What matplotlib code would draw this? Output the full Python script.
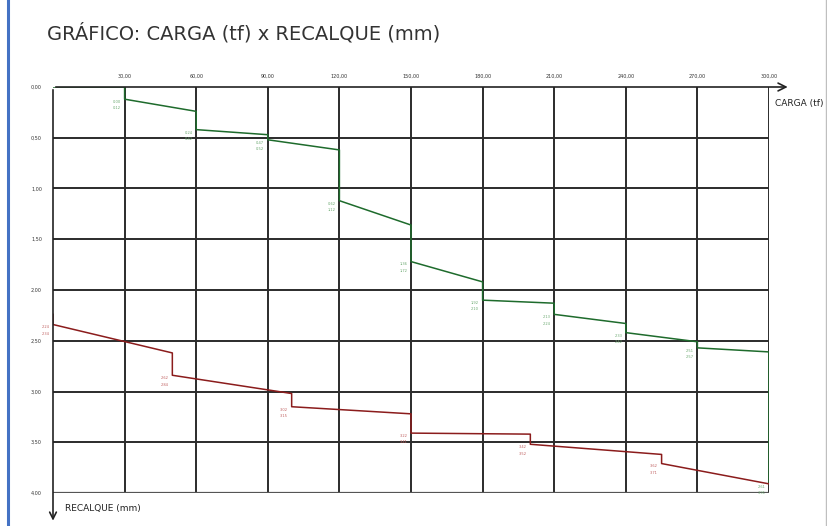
import matplotlib.pyplot as plt
from matplotlib.lines import Line2D

# Dados (carga em tf, recalque em mm)
carga_ticks = [0, 30, 60, 90, 120, 150, 180, 210, 240, 270, 300]
recalque_ticks = [0.0, 0.5, 1.0, 1.5, 2.0, 2.5, 3.0, 3.5, 4.0]

carga_verde = [0, 30, 30, 60, 60, 90, 90, 120, 120, 150, 150, 180, 180,
               210, 210, 240, 240, 270, 270, 300, 300]
recalque_verde = [0.00, 0.00, 0.12, 0.24, 0.42, 0.47, 0.52, 0.62, 1.12, 1.36,
                  1.72, 1.92, 2.10, 2.13, 2.24, 2.33, 2.42, 2.51, 2.57, 2.61, 3.91]

carga_vermelha = [0, 0, 50, 50, 100, 100, 150, 150, 200, 200, 255, 255, 300]
recalque_vermelho = [2.24, 2.34, 2.62, 2.84, 3.02, 3.15, 3.22, 3.41, 3.42,
                     3.52, 3.62, 3.71, 3.91]


def fmt(v):
    return f'{v:.2f}'.replace('.', ',')


fig = plt.figure(figsize=(8.28, 5.26), dpi=100)
ax = fig.add_axes([53 / 828, 33 / 526, 716 / 828, 406 / 526])

ax.set_xlim(0, 300)
ax.set_ylim(4, 0)

# grade
for x in carga_ticks[1:]:
    ax.axvline(x, color='#2b2b2b', lw=1.4, zorder=1)
for y in recalque_ticks[1:-1]:
    ax.axhline(y, color='#2b2b2b', lw=1.4, zorder=1)
ax.axhline(4, color='#555555', lw=1.6, zorder=1)

for s in ax.spines.values():
    s.set_visible(False)
ax.tick_params(length=0)

ax.xaxis.tick_top()
ax.set_xticks(carga_ticks[1:])
ax.set_xticklabels([fmt(v) for v in carga_ticks[1:]], fontsize=3.5, color='#333333')
ax.tick_params(axis='x', pad=6)
ax.set_yticks(recalque_ticks)
ax.set_yticklabels([fmt(v) for v in recalque_ticks], fontsize=3.5, color='#333333')
ax.tick_params(axis='y', pad=8)

# curvas
ax.plot(carga_verde, recalque_verde, color='#1e6b2c', lw=1.1, zorder=3)
ax.plot(carga_vermelha, recalque_vermelho, color='#8b1c1c', lw=1.1, zorder=3)

# rótulos pequenos dos pontos
for i in range(1, len(carga_verde) - 1, 2):
    ax.text(carga_verde[i] - 1.5, recalque_verde[i + 1] + 0.06,
            fmt(recalque_verde[i]) + '\n' + fmt(recalque_verde[i + 1]),
            fontsize=2.6, color='#6aa86f', ha='right', va='center',
            linespacing=1.8, zorder=4)
for i in range(0, len(carga_vermelha) - 1, 2):
    ax.text(carga_vermelha[i] - 1.5, recalque_vermelho[i + 1] + 0.06,
            fmt(recalque_vermelho[i]) + '\n' + fmt(recalque_vermelho[i + 1]),
            fontsize=2.6, color='#c06060', ha='right', va='center',
            linespacing=1.8, zorder=4)

# eixos com setas
ax.annotate('', xy=(1.03, 1.0), xytext=(0, 1.0), xycoords='axes fraction',
            arrowprops=dict(arrowstyle='->', color='#222222', lw=1.2,
                            mutation_scale=14), annotation_clip=False)
ax.annotate('', xy=(0, -0.075), xytext=(0, 1.0), xycoords='axes fraction',
            arrowprops=dict(arrowstyle='->', color='#222222', lw=1.2,
                            mutation_scale=12), annotation_clip=False)
ax.text(1.009, 0.97, 'CARGA (tf)', transform=ax.transAxes, fontsize=6.5,
        color='#222222', ha='left', va='top', clip_on=False)
ax.text(0.017, -0.027, 'RECALQUE (mm)', transform=ax.transAxes, fontsize=6.5,
        color='#222222', ha='left', va='top', clip_on=False)

fig.text(47 / 828, 1 - 33 / 526, 'GRÁFICO: CARGA (tf) x RECALQUE (mm)',
         fontsize=14, color='#333333', ha='left', va='center')

# moldura da página
fig.add_artist(Line2D([8 / 828, 8 / 828], [0, 1], color='#4472c4', lw=2.2))
fig.add_artist(Line2D([1 - 2 / 828, 1 - 2 / 828], [0, 1], color='#bfbfbf', lw=1))

fig.savefig('out.png', dpi=100)
